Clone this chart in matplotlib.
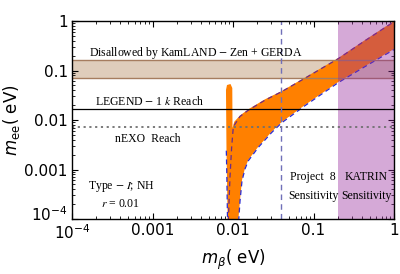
import matplotlib
matplotlib.use("Agg")
import matplotlib.pyplot as plt
from matplotlib.transforms import ScaledTranslation

plt.rcParams['font.family'] = 'DejaVu Sans'
plt.rcParams['mathtext.fontset'] = 'dejavusans'

# allowed region (Type-I seesaw, NH, r = 0.01), outline
region_mbeta = [0.00859, 0.00830, 0.00818, 0.00842, 0.00931, 0.00980, 0.00986,
                0.01038, 0.01222, 0.01549, 0.02497, 0.0403, 0.0784, 0.2033,
                0.436, 1.0, 1.0, 0.436, 0.2033, 0.0784, 0.0403, 0.03025,
                0.02062, 0.01549, 0.01410, 0.01294, 0.01222, 0.01164]
region_mee = [9.5e-5, 2.48e-3, 0.0404, 0.0509, 0.0534, 0.0443, 6.90e-3,
              9.24e-3, 0.01233, 0.01644, 0.0262, 0.0385, 0.0722, 0.179,
              0.413, 1.0, 0.272, 0.123, 0.0586, 0.0201, 9.12e-3, 5.81e-3,
              2.89e-3, 1.56e-3, 1.07e-3, 6.14e-4, 2.42e-4, 9.5e-5]

# dashed boundaries
upper_mbeta = [0.00874, 0.00918, 0.00963, 0.01009, 0.0122, 0.0155, 0.025,
               0.0403, 0.0784, 0.2033, 0.436, 1.0]
upper_mee = [9.0e-5, 7.16e-4, 2.89e-3, 7.32e-3, 0.0118, 0.0158, 0.0252,
             0.0375, 0.070, 0.174, 0.40, 0.97]
lower_mbeta = [0.01175, 0.01222, 0.01294, 0.01410, 0.01549, 0.02062, 0.03025,
               0.0403, 0.0784, 0.2033, 0.436, 1.0]
lower_mee = [9.0e-5, 2.3e-4, 5.9e-4, 1.03e-3, 1.5e-3, 2.8e-3, 5.6e-3,
             8.8e-3, 0.0195, 0.057, 0.12, 0.265]
left_mbeta = [0.00826, 0.00838, 0.00855]
left_mee = [2.4e-3, 8.0e-4, 9.0e-5]

# experimental bounds / reaches
kamland_band = [0.071, 0.165]
legend_reach = 0.0167
nexo_reach = 0.0072
project8 = 0.040
katrin = [0.2, 1.0]

xticks = [1e-4, 1e-3, 1e-2, 1e-1, 1]
xticklabels = [r'$10^{-4}$', '0.001', '0.01', '0.1', '1']
yticks = [1e-4, 1e-3, 1e-2, 1e-1, 1]
yticklabels = [r'$10^{-4}$', '0.001', '0.01', '0.1', '1']

fig = plt.figure(figsize=(4, 2.74), dpi=100)
ax = fig.add_axes([0.18, 0.2007, 0.805, 0.7226])
ax.set_xscale('log')
ax.set_yscale('log')
ax.set_xlim(1e-4, 1)
ax.set_ylim(1e-4, 1)

ax.axhspan(kamland_band[0], kamland_band[1], color='#dfcdbb', lw=0, zorder=1)
ax.fill(region_mbeta, region_mee, color='#ff8000', lw=0, zorder=2)
ax.plot(upper_mbeta, upper_mee, color='#6a2a8a', ls=(0, (4, 3)), lw=0.9, zorder=3)
ax.plot(lower_mbeta, lower_mee, color='#2a2ad0', ls=(0, (4, 3)), lw=0.9, zorder=3)
ax.plot(left_mbeta, left_mee, color='#2a2ad0', ls=(0, (4, 3)), lw=0.9, zorder=3)
for yb in kamland_band:
    ax.axhline(yb, color='#a67d5f', lw=1.0, zorder=4)
ax.axvspan(katrin[0], katrin[1], color=(150/255, 42/255, 155/255), alpha=0.4, lw=0, zorder=4)
ax.axhline(legend_reach, color='black', lw=0.9, zorder=5)
ax.axhline(nexo_reach, color='#707070', ls=(0, (1.2, 2)), lw=1.3, zorder=5)
ax.axvline(project8, color='#7070b8', ls=(0, (4, 3)), lw=1.0, zorder=5)

serif = 'Liberation Serif'
ax.text(3.47e-3, 0.226, 'Disallowed by KamLAND $-$ Zen + GERDA', family=serif,
        math_fontfamily='stix', fontsize=8.5, ha='center', va='center', zorder=6)
ax.text(9.3e-4, 0.0234, r'LEGEND $-$ 1 $k$ Reach', family=serif,
        math_fontfamily='stix', fontsize=8.5, ha='center', va='center', zorder=6)
ax.text(8.67e-4, 4.13e-3, 'nEXO  Reach', family=serif, fontsize=8.5,
        ha='center', va='center', zorder=6)
ax.text(4.06e-4, 4.64e-4, r'Type $-$ $I$; NH', family=serif,
        math_fontfamily='stix', fontsize=8.5, ha='center', va='center', zorder=6)
ax.text(4.06e-4, 2.01e-4, r'$r$ = 0.01', family=serif,
        math_fontfamily='stix', fontsize=8.5, ha='center', va='center', zorder=6)
ax.text(0.0986, 7.16e-4, 'Project  8', family=serif, fontsize=8.5,
        ha='center', va='center', zorder=6)
ax.text(0.0986, 2.96e-4, 'Sensitivity', family=serif, fontsize=8.5,
        ha='center', va='center', zorder=6)
ax.text(0.455, 7.16e-4, 'KATRIN', family=serif, fontsize=8.5,
        ha='center', va='center', zorder=6)
ax.text(0.455, 2.96e-4, 'Sensitivity', family=serif, fontsize=8.5,
        ha='center', va='center', zorder=6)

ax.set_xticks(xticks, xticklabels)
ax.set_yticks(yticks, yticklabels)
ax.tick_params(which='both', direction='in', top=True, right=True, labelsize=11)
ax.tick_params(which='major', length=4, width=0.8, pad=3)
ax.tick_params(which='minor', length=2, width=0.6)
for s in ax.spines.values():
    s.set_linewidth(1.0)
    s.set_zorder(7)

# lift the bottom y label a little so it clears the x label below it
lab = ax.get_yticklabels()[0]
lab.set_transform(lab.get_transform() + ScaledTranslation(0, 4 / 72, fig.dpi_scale_trans))

ax.set_xlabel(r'$m_{\beta}$( eV)', fontsize=12, labelpad=4)
ax.set_ylabel(r'$m_{\rm ee}$( eV)', fontsize=12, labelpad=2)

fig.savefig('out.png', dpi=100)
